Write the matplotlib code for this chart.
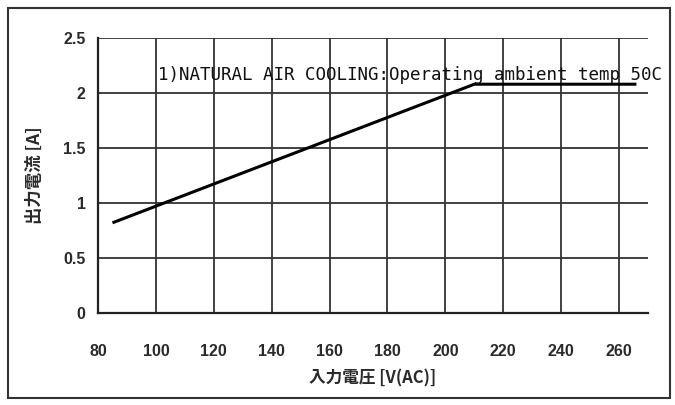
import matplotlib
matplotlib.use("Agg")
from matplotlib import pyplot as plt
from matplotlib.patches import Rectangle

plt.rcParams['font.family'] = ['Noto Sans CJK JP', 'DejaVu Sans']

# derating curve: input voltage vs output current
voltage = [85, 210, 266]
current = [0.82, 2.08, 2.08]

x_ticks = [80, 100, 120, 140, 160, 180, 200, 220, 240, 260]
y_ticks = [0, 0.5, 1, 1.5, 2, 2.5]
y_labels = ['0', '0.5', '1', '1.5', '2', '2.5']

note = "1)NATURAL AIR COOLING:Operating ambient temp 50C"

fig = plt.figure(figsize=(6.75, 4.05), dpi=100)
ax = fig.add_axes([98/675, 1 - 313/405, (648 - 98)/675, (313 - 38)/405])

ax.plot(voltage, current, color="black", linewidth=2.2, solid_capstyle="butt")

ax.set_xlim(80, 270)
ax.set_ylim(0, 2.5)
ax.set_xticks(x_ticks)
ax.set_yticks(y_ticks)
ax.set_yticklabels(y_labels)
ax.tick_params(length=0)
ax.tick_params(axis="x", pad=22)
ax.tick_params(axis="y", pad=9)
for lab in ax.get_xticklabels() + ax.get_yticklabels():
    lab.set_family("Liberation Sans")
    lab.set_fontsize(11.5)
    lab.set_fontweight("bold")
    lab.set_color("#2a2a2a")

ax.grid(True, color="#333333", linewidth=1.3)
for side in ["top", "right"]:
    ax.spines[side].set_visible(False)
for side in ["left", "bottom"]:
    ax.spines[side].set_linewidth(1.6)
    ax.spines[side].set_color("#222222")
ax.set_axisbelow(True)

ax.set_xlabel("入力電圧 [V(AC)]", fontsize=12, fontweight="bold", labelpad=8, color="#2a2a2a")
ax.set_ylabel("出力電流 [A]", fontsize=12.5, fontweight="bold", labelpad=14, color="#2a2a2a")

fig.text(158/675, 1 - 75/405, note, family="DejaVu Sans Mono", fontsize=12.6,
         va="center", ha="left", color="#111111")

# scanned page frame
fig.patches.append(Rectangle((8/675, 7/405), 662/675, 390/405, transform=fig.transFigure,
                             fill=False, edgecolor="#333333", linewidth=1.5))

plt.savefig("out.png", dpi=100)
